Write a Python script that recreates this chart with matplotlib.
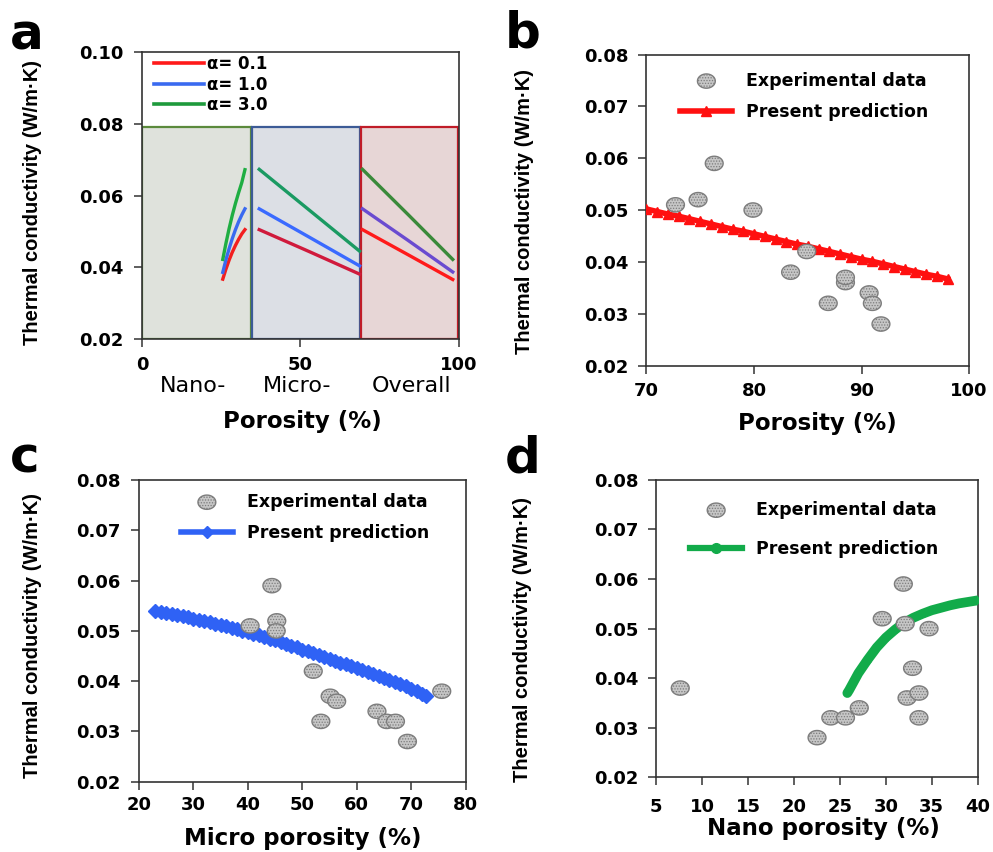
import matplotlib
matplotlib.use("Agg")
import matplotlib.pyplot as plt
import matplotlib.transforms as mtransforms
import numpy as np
from matplotlib.patches import Rectangle
from matplotlib.path import Path
from matplotlib.lines import Line2D

# ---------------- data ----------------
# panel a : three porosity regions, alpha = 0.1 / 1.0 / 3.0
regions = ["Nano-", "Micro-", "Overall"]
region_x = [16, 49, 85]
region_span = [(0, 34.3), (34.8, 68.7), (69.0, 99.7)]
region_top = 0.079
region_fill = ["#dfe2dc", "#dcdfe5", "#e7d6d6"]
region_edge = ["#5b8a3c", "#3c5b96", "#c01c28"]

alphas = ["α= 0.1", "α= 1.0", "α= 3.0"]

nano_x = [25.5, 26.5, 27.5, 28.5, 29.5, 30.5, 31.5, 32.5]
nano_k = [
    [0.0367, 0.0395, 0.0420, 0.0442, 0.0461, 0.0478, 0.0493, 0.0505],
    [0.0386, 0.0421, 0.0452, 0.0480, 0.0505, 0.0527, 0.0546, 0.0563],
    [0.0422, 0.0467, 0.0508, 0.0545, 0.0578, 0.0608, 0.0636, 0.0672],
]
micro_x = [37.0, 53.0, 68.7]
micro_k = [
    [0.0505, 0.0443, 0.0381],
    [0.0563, 0.0483, 0.0404],
    [0.0673, 0.0558, 0.0445],
]
overall_x = [69.6, 84.0, 98.1]
overall_k = [
    [0.0505, 0.0435, 0.0366],
    [0.0563, 0.0475, 0.0387],
    [0.0673, 0.0547, 0.0422],
]

# panel b : overall porosity
b_exp_x = [72.7, 74.8, 76.3, 79.9, 84.9, 83.4, 86.9, 88.5, 88.5, 90.7, 91.0, 91.8]
b_exp_k = [0.051, 0.052, 0.059, 0.050, 0.042, 0.038, 0.032, 0.036, 0.037, 0.034, 0.032, 0.028]
b_pred_x = [70, 71, 72, 73, 74, 75, 76, 77, 78, 79, 80, 81, 82, 83, 84, 85,
            86, 87, 88, 89, 90, 91, 92, 93, 94, 95, 96, 97, 98]
b_pred_k = [0.0502, 0.0497, 0.0492, 0.0488, 0.0483, 0.0478, 0.0473, 0.0468,
            0.0463, 0.0459, 0.0454, 0.0449, 0.0444, 0.0439, 0.0434, 0.0430,
            0.0425, 0.0420, 0.0415, 0.0410, 0.0405, 0.0401, 0.0396, 0.0391,
            0.0386, 0.0381, 0.0376, 0.0372, 0.0367]

# panel c : micro porosity
c_exp_x = [40.4, 44.4, 45.3, 45.2, 52.0, 53.4, 55.1, 56.3, 63.7, 65.5, 67.1, 69.3, 75.6]
c_exp_k = [0.051, 0.059, 0.052, 0.050, 0.042, 0.032, 0.037, 0.036, 0.034, 0.032, 0.032, 0.028, 0.038]
c_pred_x = [23, 24, 25, 26, 27, 28, 29, 30, 31, 32, 33, 34, 35, 36, 37, 38, 39,
            40, 41, 42, 43, 44, 45, 46, 47, 48, 49, 50, 51, 52, 53, 54, 55, 56,
            57, 58, 59, 60, 61, 62, 63, 64, 65, 66, 67, 68, 69, 70, 71, 72, 72.7]
c_pred_k = [0.0540, 0.0538, 0.0536, 0.0534, 0.0531, 0.0529, 0.0527, 0.0524,
            0.0522, 0.0519, 0.0517, 0.0514, 0.0512, 0.0509, 0.0506, 0.0503,
            0.0500, 0.0497, 0.0494, 0.0491, 0.0488, 0.0484, 0.0481, 0.0477,
            0.0474, 0.0470, 0.0467, 0.0463, 0.0460, 0.0456, 0.0452, 0.0449,
            0.0445, 0.0441, 0.0437, 0.0434, 0.0430, 0.0426, 0.0422, 0.0418,
            0.0414, 0.0410, 0.0406, 0.0402, 0.0398, 0.0394, 0.0390, 0.0385,
            0.0380, 0.0375, 0.0371]

# panel d : nano porosity
d_exp_x = [7.6, 22.5, 24.0, 25.6, 27.1, 29.6, 31.9, 32.1, 32.3, 32.9, 33.6, 33.6, 34.7]
d_exp_k = [0.038, 0.028, 0.032, 0.032, 0.034, 0.052, 0.059, 0.051, 0.036, 0.042, 0.037, 0.032, 0.050]
d_pred_x = [25.8, 26, 27, 28, 29, 30, 31, 32, 33, 34, 35, 36, 37, 38, 39, 40]
d_pred_k = [0.0370, 0.0376, 0.0410, 0.0437, 0.0462, 0.0482, 0.0498, 0.0512,
            0.0522, 0.0530, 0.0537, 0.0542, 0.0547, 0.0551, 0.0554, 0.0557]

# ---------------- style ----------------
BOLD = dict(family="DejaVu Sans", weight="bold")
YLAB = dict(family=["Liberation Sans", "DejaVu Sans"], fontsize=14.5, weight="bold")
SPINE = "#333333"

t = np.linspace(0, 2 * np.pi, 60)
oval = Path(np.c_[np.cos(t), 0.8 * np.sin(t)], closed=True)
plt.rcParams["hatch.linewidth"] = 0.6

fig = plt.figure(figsize=(9.93, 8.52), dpi=100)
axa = fig.add_axes([0.143, 0.602, 0.319, 0.337])
axb = fig.add_axes([0.651, 0.571, 0.325, 0.365])
axc = fig.add_axes([0.140, 0.0825, 0.329, 0.354])
axd = fig.add_axes([0.661, 0.0877, 0.3236, 0.349])


def style(ax, ylab_x, ylab_y, xlab_y, xlab_x, tpad):
    for s in ax.spines.values():
        s.set_color(SPINE)
        s.set_linewidth(1.2)
    ax.tick_params(direction="out", length=6, width=1.1, color=SPINE,
                   labelsize=13, pad=7)
    ax.tick_params(axis="x", pad=tpad)
    for lab in ax.get_xticklabels() + ax.get_yticklabels():
        lab.set_fontweight("bold")
    ax.set_ylabel("Thermal conductivity (W/m·K)", **YLAB)
    ax.yaxis.set_label_coords(ylab_x, ylab_y)
    ax.xaxis.set_label_coords(xlab_x, xlab_y)


def exp_points(ax, x, y):
    ax.scatter(x, y, s=165, marker=oval, facecolor="#c6c6c6",
               edgecolor="#7d7d7d", linewidth=1.0, hatch="......", zorder=5)


def exp_handle():
    return plt.scatter([], [], s=165, marker=oval, facecolor="#c6c6c6",
                       edgecolor="#7d7d7d", linewidth=1.0, hatch="......")


# ---------------- panel a ----------------
line_cols = {
    "nano": ["#f21f1f", "#3a6af0", "#1fae42"],
    "micro": ["#d01a3c", "#3a6aff", "#1a9a62"],
    "overall": ["#ff1a1a", "#6a4bd0", "#3a8a3a"],
}
for (x0, x1), fc, ec in zip(region_span, region_fill, region_edge):
    axa.add_patch(Rectangle((x0, 0.02), x1 - x0, region_top - 0.02,
                            facecolor=fc, edgecolor=ec, linewidth=1.6, zorder=1))
for i in range(3):
    axa.plot(nano_x, nano_k[i], color=line_cols["nano"][i], lw=2.4, zorder=3)
    axa.plot(micro_x, micro_k[i], color=line_cols["micro"][i], lw=2.4, zorder=3)
    axa.plot(overall_x, overall_k[i], color=line_cols["overall"][i], lw=2.4, zorder=3)
handles_a = [Line2D([], [], color=c, lw=2.6) for c in ["#ff1a1a", "#3a6af0", "#1e9a3c"]]
axa.legend(handles_a, alphas, loc="upper left", bbox_to_anchor=(-0.005, 1.035),
           frameon=False, prop=dict(size=12, **BOLD), handlelength=3.0,
           handletextpad=0.2, labelspacing=0.15, borderpad=0.3)
axa.set_xlim(0, 100)
axa.set_ylim(0.02, 0.10)
axa.set_xticks([0, 50, 100])
axa.set_yticks([0.02, 0.04, 0.06, 0.08, 0.10])
axa.set_yticklabels(["0.02", "0.04", "0.06", "0.08", "0.10"])
axa.set_xlabel("Porosity (%)", fontsize=16.5, **BOLD)
style(axa, -0.315, 0.475, -0.247, 0.505, 6)
trans = mtransforms.blended_transform_factory(axa.transData, axa.transAxes)
for name, xc in zip(regions, region_x):
    axa.text(xc, -0.165, name, transform=trans, ha="center", va="center",
             fontsize=16, family="DejaVu Sans")

# ---------------- panel b ----------------
axb.plot(b_pred_x, b_pred_k, color="#ff1010", lw=4, marker="^", ms=7,
         mec="#ff1010", zorder=3)
exp_points(axb, b_exp_x, b_exp_k)
pred_b = Line2D([], [], color="#ff1010", lw=4, marker="^", ms=7)
axb.set_xlim(70, 100)
axb.set_ylim(0.02, 0.08)
axb.set_xticks([70, 80, 90, 100])
axb.set_yticks([0.02, 0.03, 0.04, 0.05, 0.06, 0.07, 0.08])
axb.set_xlabel("Porosity (%)", fontsize=16.5, **BOLD)
style(axb, -0.347, 0.495, -0.149, 0.53, 6)

# ---------------- panel c ----------------
axc.plot(c_pred_x, c_pred_k, color="#2f62f5", lw=5, marker="D", ms=7,
         mec="#2f62f5", zorder=3)
exp_points(axc, c_exp_x, c_exp_k)
pred_c = Line2D([], [], color="#2f62f5", lw=4, marker="D", ms=6)
axc.set_xlim(20, 80)
axc.set_ylim(0.02, 0.08)
axc.set_xticks([20, 30, 40, 50, 60, 70, 80])
axc.set_yticks([0.02, 0.03, 0.04, 0.05, 0.06, 0.07, 0.08])
axc.set_xlabel("Micro porosity (%)", fontsize=16.5, **BOLD)
style(axc, -0.298, 0.485, -0.150, 0.50, 4)

# ---------------- panel d ----------------
axd.plot(d_pred_x, d_pred_k, color="#12ab4a", lw=7, marker="o", ms=4,
         solid_capstyle="round", zorder=3)
exp_points(axd, d_exp_x, d_exp_k)
pred_d = Line2D([], [], color="#12ab4a", lw=4.5, marker="o", ms=7)
axd.set_xlim(5, 40)
axd.set_ylim(0.02, 0.08)
axd.set_xticks([5, 10, 15, 20, 25, 30, 35, 40])
axd.set_yticks([0.02, 0.03, 0.04, 0.05, 0.06, 0.07, 0.08])
axd.set_xlabel("Nano porosity (%)", fontsize=16.5, **BOLD)
style(axd, -0.386, 0.465, -0.134, 0.52, 9)

# legends for b, c, d
for ax, pred, anchor, sp in [(axb, pred_b, (0.105, 0.945), 0.75),
                             (axc, pred_c, (0.128, 0.958), 0.75),
                             (axd, pred_d, (0.105, 0.93), 1.2)]:
    ax.legend([exp_handle(), pred], ["Experimental data", "Present prediction"],
              loc="upper left", bbox_to_anchor=anchor, frameon=False,
              prop=dict(size=12.5, **BOLD), handlelength=3.0,
              handletextpad=0.8, labelspacing=sp, borderpad=0, borderaxespad=0,
              scatterpoints=1, numpoints=1)

# panel letters
for x, y, s in [(10, 50, "a"), (505, 48, "b"), (10, 473, "c"), (505, 473, "d")]:
    fig.text(x / 993, 1 - y / 852, s, fontsize=36, ha="left", va="baseline", **BOLD)

fig.savefig("out.png", dpi=100)
